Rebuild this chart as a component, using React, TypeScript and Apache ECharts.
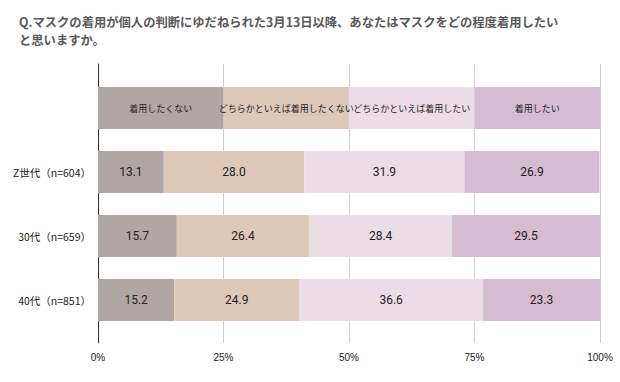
import React, { useEffect, useRef } from "react";
import * as echarts from "echarts";

const titleLines = [
  "Q.マスクの着用が個人の判断にゆだねられた3月13日以降、あなたはマスクをどの程度着用したい",
  "と思いますか。",
];
const groups = ["Z世代（n=604）", "30代（n=659）", "40代（n=851）"];
const answers = [
  "着用したくない",
  "どちらかといえば着用したくない",
  "どちらかといえば着用したい",
  "着用したい",
];
const notWant = [13.1, 15.7, 15.2];
const ratherNot = [28.0, 26.4, 24.9];
const ratherWant = [31.9, 28.4, 36.6];
const want = [26.9, 29.5, 23.3];
const headerShare = [25, 25, 25, 25];
const xTicks = [0, 25, 50, 75, 100];
const colors = ["#b1a6a6", "#dec8b8", "#ebdde5", "#d6bcd0"];

const FONT = "'Noto Sans CJK JP', 'Noto Sans', sans-serif";

export default function App() {
  const ref = useRef<HTMLDivElement>(null);
  useEffect(() => {
    if (!ref.current) return;
    const chart = echarts.init(ref.current, undefined, { renderer: "svg" });
    const valueSets = [notWant, ratherNot, ratherWant, want];
    const categories = ["", ...groups];
    const series = answers.map((name, i) => ({
      name,
      type: "bar",
      stack: "total",
      xAxisIndex: 1,
      yAxisIndex: 1,
      barWidth: 42,
      itemStyle: { color: colors[i] },
      label: {
        show: true,
        position: "inside",
        color: "#222",
        fontSize: 12,
        fontFamily: "Roboto, sans-serif",
        formatter: (p: any) => Number(p.value).toFixed(1),
      },
      data: [
        {
          value: headerShare[i],
          label: {
            formatter: name,
            fontSize: 9,
            fontFamily: FONT,
            color: "#222",
          },
        },
        ...valueSets[i].map((v) => ({ value: v })),
      ],
    }));
    chart.setOption({
      animation: false,
      backgroundColor: "#ffffff",
      title: titleLines.map((t, i) => ({
        text: t,
        left: 19,
        top: 15 + i * 18,
        padding: 0,
        textStyle: {
          fontSize: 12.3,
          fontWeight: "bold",
          color: "#595959",
          fontFamily: FONT,
          lineHeight: 14,
        },
      })),
      grid: [
        { left: 98, right: 20, top: 64, height: 279 },
        { left: 98, right: 20, top: 76, height: 256 },
      ],
      xAxis: [
        {
          gridIndex: 0,
          type: "value",
          min: xTicks[0],
          max: xTicks[xTicks.length - 1],
          interval: xTicks[1] - xTicks[0],
          axisLine: { show: false },
          axisTick: { show: false },
          axisLabel: {
            formatter: "{value}%",
            color: "#222",
            fontSize: 10,
            margin: 9,
            fontFamily: "'Liberation Sans', sans-serif",
          },
          splitLine: { show: true, lineStyle: { color: "#d0d0d0", width: 1 } },
        },
        {
          gridIndex: 1,
          type: "value",
          min: 0,
          max: 100,
          show: false,
        },
      ],
      yAxis: [
        {
          gridIndex: 0,
          type: "value",
          min: 0,
          max: 1,
          axisLine: { show: true, lineStyle: { color: "#333", width: 1 } },
          axisTick: { show: false },
          axisLabel: { show: false },
          splitLine: { show: false },
        },
        {
          gridIndex: 1,
          type: "category",
          inverse: true,
          data: categories,
          axisLine: { show: false },
          axisTick: { show: false },
          axisLabel: {
            color: "#222",
            fontSize: 10.5,
            margin: 7,
            fontFamily: FONT,
          },
        },
      ],
      series,
    });
    return () => chart.dispose();
  }, []);
  return (
    <div
      ref={ref}
      style={{ position: "fixed", left: 0, top: 0, width: 620, height: 382 }}
    />
  );
}
